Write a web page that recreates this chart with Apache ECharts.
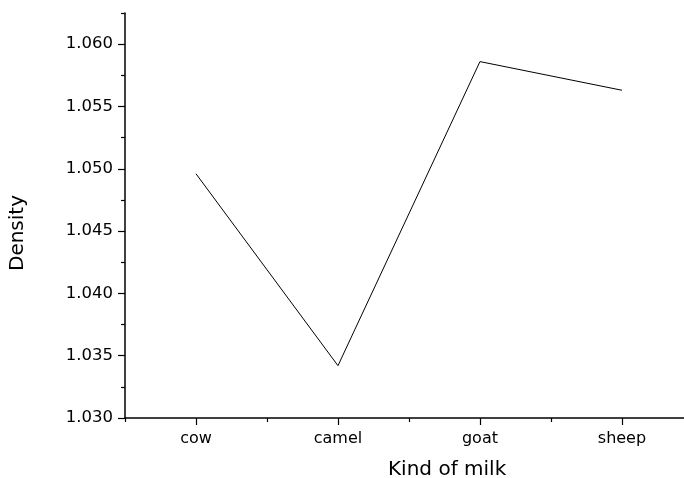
<!DOCTYPE html>
<html>
<head>
<meta charset="utf-8">
<title>Density by kind of milk</title>
<script src="https://cdn.jsdelivr.net/npm/echarts@6/dist/echarts.min.js"></script>
<style>
  html, body { margin: 0; padding: 0; background: #fff; }
  #chart { width: 684px; height: 478px; }
</style>
</head>
<body>
<div id="chart"></div>
<script>
// Kinds of milk along the x axis (placed at positions 1..n)
const categories = ['cow', 'camel', 'goat', 'sheep'];
// Measured density for each kind of milk
const density = [1.0496, 1.0342, 1.0586, 1.0563];
// Labelled y ticks and the short ticks between them
const yMajorTicks = [1.030, 1.035, 1.040, 1.045, 1.050, 1.055, 1.060];
const yMinorTicks = [1.0325, 1.0375, 1.0425, 1.0475, 1.0525, 1.0575, 1.0625];
// Short ticks between the categories on the x axis
const xMinorTicks = [0.5, 1.5, 2.5, 3.5];

const FONT = 'DejaVu Sans';
const xPositions = categories.map((_, i) => i + 1);
const seriesData = xPositions.map((x, i) => [x, density[i]]);

const chart = echarts.init(document.getElementById('chart'), null, { renderer: 'canvas' });

const axisLineStyle = { color: '#000', width: 1.5 };
const yMin = 1.030, yMax = 1.0625;
const xMin = 0.5, xMax = 4.437;

chart.setOption({
  animation: false,
  backgroundColor: '#fff',
  title: {
    text: 'Kind of milk',
    left: 383,
    top: 455,
    textStyle: { fontFamily: FONT, fontSize: 20, fontWeight: 'normal', color: '#000' }
  },
  graphic: [{
    type: 'text',
    x: 18,
    y: 233,
    rotation: Math.PI / 2,
    style: {
      text: 'Density',
      fontFamily: FONT,
      fontSize: 20,
      fill: '#000',
      textAlign: 'center',
      textVerticalAlign: 'middle'
    }
  }],
  grid: { left: 125, right: 0, top: 13, bottom: 60, containLabel: false, outerBoundsMode: 'none' },
  xAxis: [{
    type: 'value',
    min: xMin,
    max: xMax,
    position: 'bottom',
    axisLine: { show: true, onZero: false, lineStyle: axisLineStyle },
    axisTick: { show: true, customValues: xPositions, length: 7, lineStyle: { color: '#000', width: 1.2 } },
    axisLabel: {
      show: true,
      customValues: xPositions,
      formatter: v => categories[Math.round(v) - 1] || '',
      margin: 13,
      fontFamily: FONT,
      fontSize: 16,
      color: '#000'
    },
    splitLine: { show: false }
  }, {
    type: 'value',
    min: xMin,
    max: xMax,
    position: 'bottom',
    axisLine: { show: false, onZero: false },
    axisTick: { show: true, customValues: xMinorTicks, length: 4, lineStyle: { color: '#000', width: 1.2 } },
    axisLabel: { show: false },
    splitLine: { show: false }
  }],
  yAxis: [{
    type: 'value',
    min: yMin,
    max: yMax,
    position: 'left',
    axisLine: { show: true, onZero: false, lineStyle: axisLineStyle },
    axisTick: { show: true, customValues: yMajorTicks, length: 7, lineStyle: { color: '#000', width: 1.2 } },
    axisLabel: {
      show: true,
      customValues: yMajorTicks,
      formatter: v => v.toFixed(3),
      margin: 12,
      fontFamily: FONT,
      fontSize: 16.5,
      color: '#000'
    },
    splitLine: { show: false }
  }, {
    type: 'value',
    min: yMin,
    max: yMax,
    position: 'left',
    offset: 0,
    axisLine: { show: false, onZero: false },
    axisTick: { show: true, customValues: yMinorTicks, length: 4, lineStyle: { color: '#000', width: 1.2 } },
    axisLabel: { show: false },
    splitLine: { show: false }
  }],
  series: [{
    type: 'line',
    xAxisIndex: 0,
    yAxisIndex: 0,
    data: seriesData,
    showSymbol: false,
    symbol: 'none',
    lineStyle: { color: '#000', width: 1 },
    clip: false
  }]
});
</script>
</body>
</html>
